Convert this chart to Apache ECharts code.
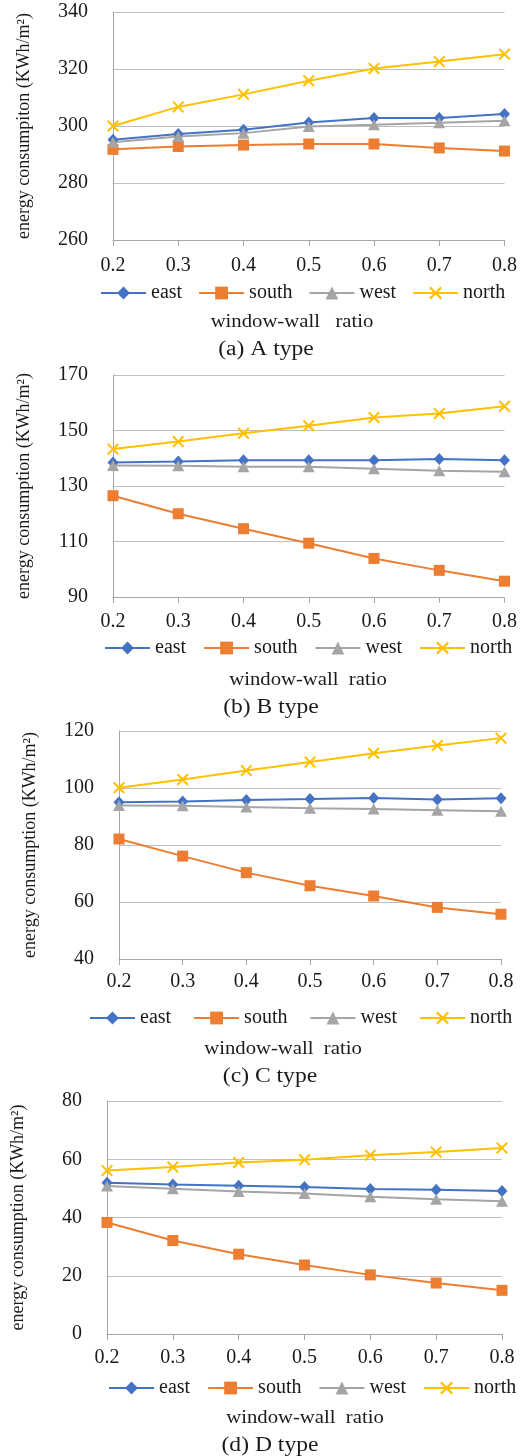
<!DOCTYPE html>
<html>
<head>
<meta charset="utf-8">
<script src="https://cdn.jsdelivr.net/npm/echarts@6/dist/echarts.min.js"></script>
<style>
html,body{margin:0;padding:0;background:#fff;}
#main{width:520px;height:1456px;}
</style>
</head>
<body>
<div id="main"></div>
<script>
const categories = ['0.2','0.3','0.4','0.5','0.6','0.7','0.8'];
const seriesNames = ['east','south','west','north'];

const eastA  = [295.2,297.2,298.7,301.2,302.8,302.8,304.2];
const southA = [291.8,292.8,293.3,293.7,293.7,292.3,291.2];
const westA  = [294.3,296.3,297.5,299.8,300.4,301.1,301.8];
const northA = [300.0,306.7,311.1,315.9,320.2,322.6,325.2];

const eastB  = [138.5,138.8,139.3,139.3,139.3,139.7,139.3];
const southB = [126.5,120.0,114.6,109.4,103.9,99.6,95.7];
const westB  = [137.4,137.3,136.9,136.9,136.2,135.5,135.1];
const northB = [143.3,146.0,149.0,151.7,154.7,156.1,158.7];

const eastC  = [95.0,95.3,95.8,96.1,96.5,96.0,96.4];
const southC = [82.1,76.1,70.3,65.7,62.1,58.1,55.7];
const westC  = [93.9,93.8,93.3,92.9,92.6,92.2,91.8];
const northC = [100.1,103.0,106.1,109.1,112.2,114.9,117.5];

const eastD  = [51.9,51.3,50.9,50.5,49.8,49.5,49.1];
const southD = [38.3,32.1,27.4,23.7,20.3,17.5,15.0];
const westD  = [50.8,49.9,48.9,48.2,47.1,46.3,45.6];
const northD = [56.1,57.3,58.9,59.8,61.4,62.5,63.9];

const yNames = ['energy consumpiton (KWh/m\u00B2)','energy consumption (KWh/m\u00B2)','energy consumption (KWh/m\u00B2)','energy consumption (KWh/m\u00B2)'];
const yRanges = [[260,340,20],[90,170,20],[40,120,20],[0,80,20]];
const xTitle = ['window-wall   ratio','window-wall  ratio','window-wall  ratio','window-wall  ratio'];
const captions = ['(a) A type','(b) B type','(c) C type','(d) D type'];

const panelData = [
  [eastA,southA,westA,northA],
  [eastB,southB,westB,northB],
  [eastC,southC,westC,northC],
  [eastD,southD,westD,northD]
];

// layout
const grids = [
  {left:113, top:12,   width:392, height:228},
  {left:113, top:375,  width:396, height:222},
  {left:119, top:731,  width:382, height:228},
  {left:107, top:1101, width:395, height:233}
];
const labelMargins = [16,15,13,14];
const legendPos = [{left:100, cy:292, gap:16},{left:104, cy:647, gap:17},{left:89, cy:1017, gap:22},{left:108, cy:1387, gap:17}];
const xTitlePos = [{x:292,y:322},{x:308,y:680},{x:283,y:1049},{x:305,y:1418}];
const capPos = [{x:266,y:350},{x:271,y:708},{x:270,y:1077},{x:270,y:1446}];

const colors = ['#4472C4','#ED7D31','#A5A5A5','#FFC000'];
const xPath = 'path://M0,1.2L1.2,0L5,3.8L8.8,0L10,1.2L6.2,5L10,8.8L8.8,10L5,6.2L1.2,10L0,8.8L3.8,5Z';
const symbols = ['diamond','rect','triangle',xPath];
const symbolSizes = [[11,12],11,[12,11],12];

const FONT = '"Liberation Serif","Times New Roman",serif';
const TXT = '#1a1a1a';

const option = {
  animation:false,
  backgroundColor:'#fff',
  textStyle:{fontFamily:FONT,color:TXT},
  grid: grids.map(g=>Object.assign({containLabel:false},g)),
  xAxis: grids.map((g,i)=>({
    type:'category', gridIndex:i, data:categories, boundaryGap:false,
    axisLine:{show:true,lineStyle:{color:'#a6a6a6',width:1}},
    axisTick:{show:true,length:6,lineStyle:{color:'#a6a6a6'}},
    axisLabel:{fontFamily:FONT,fontSize:20,color:TXT,margin:labelMargins[i]},
    splitLine:{show:false}
  })),
  yAxis: grids.map((g,i)=>({
    type:'value', gridIndex:i, min:yRanges[i][0], max:yRanges[i][1], interval:yRanges[i][2],
    name:yNames[i], nameLocation:'middle', nameRotate:90, nameGap:80,
    nameTextStyle:{fontFamily:FONT,fontSize:18,color:TXT},
    axisLine:{show:true,lineStyle:{color:'#a6a6a6',width:1}},
    axisTick:{show:false},
    axisLabel:{fontFamily:FONT,fontSize:20,color:TXT,margin:25},
    splitLine:{show:true,lineStyle:{color:'#bfbfbf',width:1}}
  })),
  legend: legendPos.map((p,i)=>({
    data:seriesNames, left:p.left, top:p.cy-9, width:460, orient:'horizontal',
    padding:0, itemWidth:45, itemHeight:16, itemGap:p.gap,
    textStyle:{fontFamily:FONT,fontSize:20,color:TXT},
    selectedMode:false
  })),
  series: [],
  graphic: []
};

panelData.forEach((arrs,pi)=>{
  arrs.forEach((vals,si)=>{
    option.series.push({
      name:seriesNames[si], type:'line', xAxisIndex:pi, yAxisIndex:pi,
      data:vals, symbol:symbols[si], symbolSize:symbolSizes[si],
      showSymbol:true,
      lineStyle:{color:colors[si],width:2},
      itemStyle:{color:colors[si]},
      emphasis:{disabled:true}
    });
  });
  option.graphic.push({
    type:'text', x:xTitlePos[pi].x, y:xTitlePos[pi].y, scaleX:1.15,
    style:{text:xTitle[pi], font:'18px '+FONT, fill:TXT, textAlign:'center', textVerticalAlign:'middle'}
  });
  option.graphic.push({
    type:'text', x:capPos[pi].x, y:capPos[pi].y, scaleX:1.18,
    style:{text:captions[pi], font:'20px '+FONT, fill:TXT, textAlign:'center', textVerticalAlign:'middle'}
  });
});

const chart = echarts.init(document.getElementById('main'),null,{renderer:'canvas'});
chart.setOption(option);
</script>
</body>
</html>
